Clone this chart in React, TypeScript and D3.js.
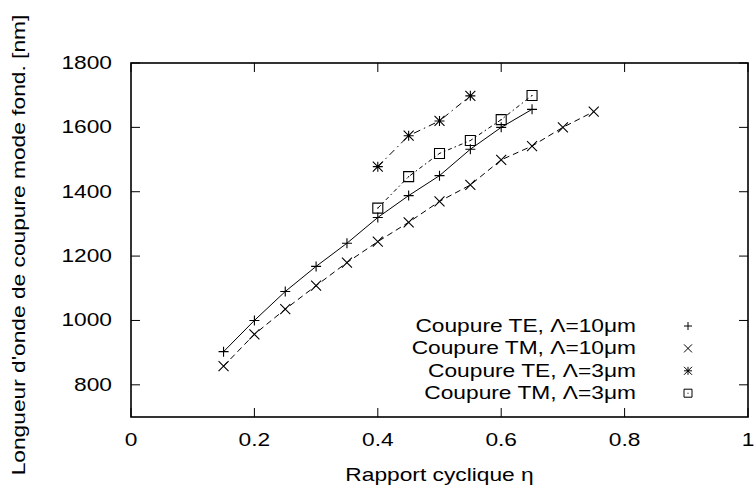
import React from 'react'
import * as d3 from 'd3'

const W = 755
const H = 493
const margin = { top: 63, right: 7, bottom: 76, left: 131 }

// gnuplot-ish text looks stretched sideways, so we scale it a bit
const FONT = '"Liberation Sans", Arial, Helvetica, sans-serif'
const FS = 17.5
const SX = 1.3

const xTicks = [0, 0.2, 0.4, 0.6, 0.8, 1]
const xTickLabels = ['0', '0.2', '0.4', '0.6', '0.8', '1']
const yTicks = [800, 1000, 1200, 1400, 1600, 1800]

// Coupure TE, Λ=10µm
const etaTE10 = [0.15, 0.2, 0.25, 0.3, 0.35, 0.4, 0.45, 0.5, 0.55, 0.6, 0.65]
const cutTE10 = [903, 1000, 1090, 1168, 1240, 1320, 1388, 1450, 1532, 1600, 1656]

// Coupure TM, Λ=10µm
const etaTM10 = [0.15, 0.2, 0.25, 0.3, 0.35, 0.4, 0.45, 0.5, 0.55, 0.6, 0.65, 0.7, 0.75]
const cutTM10 = [858, 957, 1035, 1108, 1180, 1245, 1305, 1370, 1421, 1499, 1542, 1600, 1649]

// Coupure TE, Λ=3µm
const etaTE3 = [0.4, 0.45, 0.5, 0.55]
const cutTE3 = [1478, 1574, 1620, 1698]

// Coupure TM, Λ=3µm
const etaTM3 = [0.4, 0.45, 0.5, 0.55, 0.6, 0.65]
const cutTM3 = [1349, 1447, 1519, 1559, 1624, 1699]

const seriesNames = [
  'Coupure TE, Λ=10μm',
  'Coupure TM, Λ=10μm',
  'Coupure TE, Λ=3μm',
  'Coupure TM, Λ=3μm',
]
const seriesMarks = ['plus', 'cross', 'star', 'box']
const seriesDash = ['none', '6,4', '7,4,1.5,4', '4,3,1.5,3']

function markPath(type: string, x: number, y: number, s: number) {
  const plus = `M${x - s},${y}h${2 * s}M${x},${y - s}v${2 * s}`
  const cross = `M${x - s},${y - s}l${2 * s},${2 * s}M${x - s},${y + s}l${2 * s},${-2 * s}`
  if (type === 'plus') return plus
  if (type === 'cross') return cross
  if (type === 'star') return plus + cross
  // box with the little centre dot gnuplot draws
  return `M${x - s},${y - s}h${2 * s}v${2 * s}h${-2 * s}Z M${x - 0.5},${y}h1`
}

function Txt({ x, y, anchor = 'start', rotate = 0, children }: any) {
  return (
    <g transform={`translate(${x},${y}) rotate(${rotate}) scale(${SX},1)`}>
      <text textAnchor={anchor} fontFamily={FONT} fontSize={FS} fill="#000">
        {children}
      </text>
    </g>
  )
}

export default function App() {
  const x0 = margin.left
  const x1 = W - margin.right
  const y0 = H - margin.bottom
  const y1 = margin.top

  const x = d3.scaleLinear().domain([0, 1]).range([x0, x1])
  const y = d3.scaleLinear().domain([700, 1800]).range([y0, y1])

  const series = [
    { xs: etaTE10, ys: cutTE10 },
    { xs: etaTM10, ys: cutTM10 },
    { xs: etaTE3, ys: cutTE3 },
    { xs: etaTM3, ys: cutTM3 },
  ]

  const line = d3
    .line<[number, number]>()
    .x((d) => x(d[0]))
    .y((d) => y(d[1]))

  const tick = 9
  const legendTextX = 636
  const legendMarkX = 688
  const legendY0 = 332
  const legendStep = 22.4

  return (
    <svg
      width={W}
      height={H}
      style={{ position: 'absolute', left: 0, top: 0, background: '#fff' }}
    >
      <rect x={0} y={0} width={W} height={H} fill="#fff" />

      {/* ticks, mirrored on all sides */}
      <g stroke="#000" strokeWidth={1}>
        {xTicks.map((t, i) => (
          <g key={`xt-${i}`}>
            <line x1={x(t)} x2={x(t)} y1={y0} y2={y0 - tick} />
            <line x1={x(t)} x2={x(t)} y1={y1} y2={y1 + tick} />
          </g>
        ))}
        {yTicks.map((t, i) => (
          <g key={`yt-${i}`}>
            <line x1={x0} x2={x0 + tick} y1={y(t)} y2={y(t)} />
            <line x1={x1} x2={x1 - tick} y1={y(t)} y2={y(t)} />
          </g>
        ))}
      </g>

      {xTicks.map((t, i) => (
        <Txt key={`xl-${i}`} x={x(t)} y={y0 + 29} anchor="middle">
          {xTickLabels[i]}
        </Txt>
      ))}
      {yTicks.map((t, i) => (
        <Txt key={`yl-${i}`} x={x0 - 19} y={y(t) + 6} anchor="end">
          {t}
        </Txt>
      ))}

      <Txt x={(x0 + x1) / 2} y={481} anchor="middle">
        Rapport cyclique η
      </Txt>
      <Txt x={25} y={245} anchor="middle" rotate={-90}>
        Longueur d'onde de coupure mode fond. [nm]
      </Txt>

      {/* curves */}
      {series.map((s, i) => {
        const pts = s.xs.map((v, j) => [v, s.ys[j]] as [number, number])
        return (
          <g key={`s-${i}`}>
            <path
              d={line(pts) || ''}
              fill="none"
              stroke="#000"
              strokeWidth={1}
              strokeDasharray={seriesDash[i]}
            />
            {pts.map((p, j) => (
              <path
                key={`m-${i}-${j}`}
                d={markPath(seriesMarks[i], x(p[0]), y(p[1]), 5)}
                fill="none"
                stroke="#000"
                strokeWidth={1.1}
              />
            ))}
          </g>
        )
      })}

      {/* legend: points only, like the original */}
      {seriesNames.map((name, i) => (
        <g key={`lg-${i}`}>
          <Txt x={legendTextX} y={legendY0 + i * legendStep} anchor="end">
            {name}
          </Txt>
          <path
            d={markPath(seriesMarks[i], legendMarkX, legendY0 + i * legendStep - 6, 4)}
            fill="none"
            stroke="#000"
            strokeWidth={1}
          />
        </g>
      ))}

      <rect
        x={x0}
        y={y1}
        width={x1 - x0}
        height={y0 - y1}
        fill="none"
        stroke="#000"
        strokeWidth={1.6}
      />
    </svg>
  )
}
